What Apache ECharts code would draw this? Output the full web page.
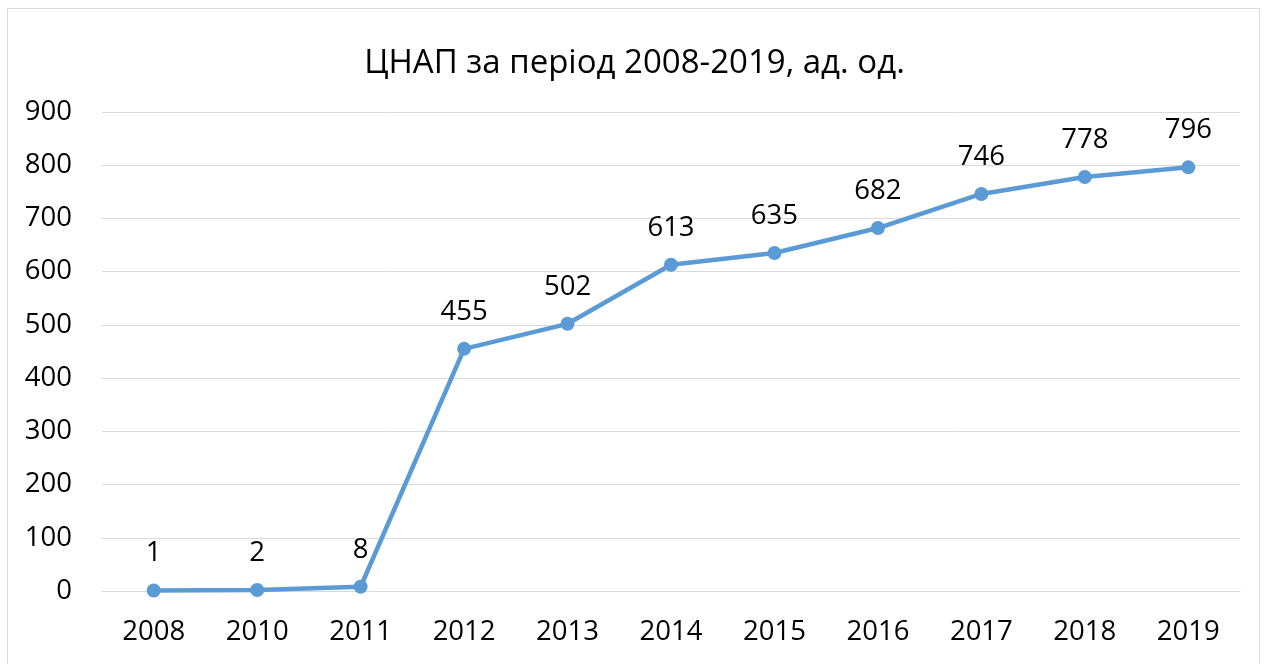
<!DOCTYPE html>
<html>
<head>
<meta charset="utf-8">
<script src="https://cdn.jsdelivr.net/npm/echarts@6/dist/echarts.min.js"></script>
<style>
  html, body { margin: 0; padding: 0; background: #fff; }
  #frame { position: absolute; left: 7px; top: 8px; width: 1253px; height: 670px; border: 1px solid #d9d9d9; box-sizing: border-box; }
  #chart { position: absolute; left: 0; top: 0; width: 1269px; height: 664px; }
</style>
</head>
<body>
<div id="frame"></div>
<div id="chart"></div>
<script>
// Years on the category axis
const years = ['2008', '2010', '2011', '2012', '2013', '2014', '2015', '2016', '2017', '2018', '2019'];
// Number of centres per year
const centres = [1, 2, 8, 455, 502, 613, 635, 682, 746, 778, 796];

const FONT = '"Open Sans", "Noto Sans", sans-serif';

const chart = echarts.init(document.getElementById('chart'), null, { renderer: 'canvas' });
chart.setOption({
  animation: false,
  title: {
    text: 'ЦНАП за період 2008-2019, ад. од.',
    left: 'center',
    top: 42,
    textStyle: { fontFamily: FONT, fontSize: 33, fontWeight: 'normal', color: '#000' }
  },
  grid: { left: 102, right: 29, top: 112, bottom: 73, containLabel: false },
  xAxis: {
    type: 'category',
    data: years,
    boundaryGap: true,
    axisLine: { show: true, lineStyle: { color: '#d9d9d9', width: 1 } },
    axisTick: { show: false },
    axisLabel: { fontFamily: FONT, fontSize: 27.5, color: '#000', margin: 27 }
  },
  yAxis: {
    type: 'value',
    min: 0,
    max: 900,
    interval: 100,
    axisLine: { show: false },
    axisTick: { show: false },
    axisLabel: { fontFamily: FONT, fontSize: 27.5, color: '#000', margin: 30 },
    splitLine: { lineStyle: { color: '#d9d9d9', width: 1 } }
  },
  series: [{
    type: 'line',
    data: centres,
    color: '#5b9bd5',
    lineStyle: { width: 4.5, color: '#5b9bd5' },
    symbol: 'circle',
    symbolSize: 14,
    itemStyle: { color: '#5b9bd5' },
    label: {
      show: true,
      position: 'top',
      distance: 16,
      fontFamily: FONT,
      fontSize: 27.5,
      color: '#000'
    }
  }]
});
</script>
</body>
</html>
